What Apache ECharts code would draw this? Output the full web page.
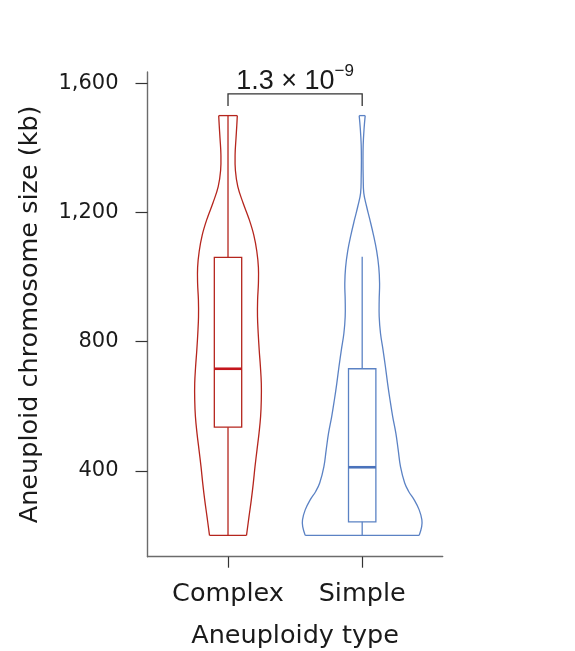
<!DOCTYPE html>
<html><head><meta charset="utf-8">
<script src="https://cdn.jsdelivr.net/npm/echarts@6/dist/echarts.min.js"></script>
<style>html,body{margin:0;padding:0;background:#fff}#c{width:575px;height:651px}</style>
</head><body><div id="c"></div>
<script>
// ---- data ----
const categories = ['Complex', 'Simple'];
const yTicks = [400, 800, 1200, 1600];
// violin outline: chromosome size levels (kb) and relative density (half width)
const complexLevels  = [200, 258, 310, 362, 413, 465, 516, 568, 620, 671, 723, 774, 826, 877, 929, 980, 1030, 1080, 1130, 1180, 1230, 1280, 1330, 1380, 1430, 1470, 1500];
const complexDensity = [18.5, 21, 23.3, 25.3, 27, 29, 31, 32.6, 33.3, 33.3, 32.4, 31.2, 30.2, 29.5, 29.6, 30.4, 30.4, 28.8, 25.8, 21, 15, 9.8, 7.4, 7.1, 8, 8.8, 9.3];
const simpleLevels   = [200, 227, 248, 279, 310, 336, 362, 413, 465, 516, 568, 620, 671, 723, 775, 826, 878, 929, 980, 1030, 1080, 1130, 1180, 1220, 1260, 1310, 1360, 1410, 1460, 1500];
const simpleDensity  = [57, 59.5, 59.7, 57, 52, 46.5, 42.5, 38.3, 36, 33.7, 30.5, 27.8, 25.4, 23.2, 20.8, 18.3, 17, 17, 17.4, 16.6, 14.5, 11.3, 7.5, 4.3, 1.6, 1, 0.8, 1, 1.9, 3];
// box: [min, Q1, median, Q3, max]
const complexBox = [200, 535, 716, 1061, 1500];
const simpleBox  = [200, 242, 411, 716, 1063];
// significance
const pMantissa = '1.3 × 10';
const pExponent = '−9';
const bracketLevels = [1530, 1567];

// ---- styles ----
const FONT = 'DejaVu Sans';
const RED = '#b5251d', RED_MED = '#c4161c';
const BLUE = '#5b82c4', BLUE_MED = '#4a72bb';
const WIDTH_SCALE = 1 / 134.2;   // density unit -> x axis units
const BOX_HALF = 0.102;

function violinItem(levels, dens, box, color, medColor) {
  return function (params, api) {
    const cx = api.value(0);
    const left = [], right = [];
    for (let i = 0; i < levels.length; i++) {
      left.push(api.coord([cx - dens[i] * WIDTH_SCALE, levels[i]]));
      right.push(api.coord([cx + dens[i] * WIDTH_SCALE, levels[i]]));
    }
    const n = levels.length - 1;
    const tl = api.coord([cx - BOX_HALF, box[3]]);
    const br = api.coord([cx + BOX_HALF, box[1]]);
    const c = api.coord([cx, box[0]]);
    const lo = c[1];
    const hi = api.coord([cx, box[4]])[1];
    const med = api.coord([cx, box[2]])[1];
    const ls = { fill: 'none', stroke: color, lineWidth: 1.3 };
    return {
      type: 'group',
      children: [
        { type: 'polyline', shape: { points: left, smooth: 0.4 }, style: ls },
        { type: 'polyline', shape: { points: right, smooth: 0.4 }, style: ls },
        { type: 'line', shape: { x1: left[0][0], y1: left[0][1], x2: right[0][0], y2: right[0][1] }, style: ls },
        { type: 'line', shape: { x1: left[n][0], y1: left[n][1], x2: right[n][0], y2: right[n][1] }, style: ls },
        { type: 'line', shape: { x1: c[0], y1: lo, x2: c[0], y2: br[1] }, style: ls },
        { type: 'line', shape: { x1: c[0], y1: tl[1], x2: c[0], y2: hi }, style: ls },
        { type: 'rect', shape: { x: tl[0], y: tl[1], width: br[0] - tl[0], height: br[1] - tl[1] }, style: ls },
        { type: 'line', shape: { x1: tl[0], y1: med, x2: br[0], y2: med }, style: { stroke: medColor, lineWidth: 2.6 } }
      ]
    };
  };
}

const chart = echarts.init(document.getElementById('c'), null, { renderer: 'canvas' });
chart.setOption({
  animation: false,
  backgroundColor: '#fff',
  textStyle: { fontFamily: FONT },
  grid: { left: 147.5, right: 132.3, top: 72, bottom: 94.3, containLabel: false, outerBoundsMode: 'none' },
  xAxis: {
    type: 'value', min: 0.4, max: 2.6,
    name: 'Aneuploidy type', nameLocation: 'middle', nameGap: 67,
    nameTextStyle: { fontFamily: FONT, fontSize: 25.5, color: '#1a1a1a' },
    axisLine: { show: true, lineStyle: { color: '#6b6b6b', width: 1.4 } },
    axisTick: { show: true, length: 11, lineStyle: { color: '#333', width: 1.2 }, customValues: [1, 2] },
    axisLabel: { fontFamily: FONT, fontSize: 25.5, color: '#1a1a1a', margin: 25,
      customValues: [1, 2], formatter: v => categories[Math.round(v) - 1] || '' },
    splitLine: { show: false }
  },
  yAxis: {
    type: 'value', min: 134, max: 1635,
    name: 'Aneuploid chromosome size (kb)', nameLocation: 'middle', nameGap: 104, nameRotate: 90,
    nameTextStyle: { fontFamily: FONT, fontSize: 25.5, color: '#1a1a1a' },
    axisLine: { show: true, lineStyle: { color: '#6b6b6b', width: 1.4 } },
    axisTick: { show: true, length: 12, lineStyle: { color: '#333', width: 1.2 }, customValues: yTicks },
    axisLabel: { fontFamily: FONT, fontSize: 21, color: '#1a1a1a', margin: 29, customValues: yTicks,
      formatter: v => v.toLocaleString('en-US') },
    splitLine: { show: false }
  },
  series: [
    { type: 'custom', data: [[1, 0]], renderItem: violinItem(complexLevels, complexDensity, complexBox, RED, RED_MED), clip: false },
    { type: 'custom', data: [[2, 0]], renderItem: violinItem(simpleLevels, simpleDensity, simpleBox, BLUE, BLUE_MED), clip: false },
    { type: 'custom', data: [[1, 2]], clip: false,
      renderItem: function (params, api) {
        const a = api.coord([api.value(0), bracketLevels[0]]);
        const b = api.coord([api.value(0), bracketLevels[1]]);
        const c = api.coord([api.value(1), bracketLevels[1]]);
        const d = api.coord([api.value(1), bracketLevels[0]]);
        const mid = api.coord([(api.value(0) + api.value(1)) / 2, bracketLevels[1]]);
        return { type: 'group', children: [
          { type: 'polyline', shape: { points: [a, b, c, d] }, style: { fill: 'none', stroke: '#333', lineWidth: 1.3 } },
          { type: 'text', style: {
              x: mid[0], y: mid[1] + 1, align: 'center', verticalAlign: 'bottom',
              text: '{m|' + pMantissa + '}{s|' + pExponent + '}',
              rich: {
                m: { fontFamily: 'Liberation Sans', fontSize: 27, lineHeight: 32, verticalAlign: 'bottom', fill: '#1a1a1a' },
                s: { fontFamily: 'Liberation Sans', fontSize: 17, lineHeight: 14, verticalAlign: 'top', fill: '#1a1a1a' }
              } } }
        ] };
      } }
  ]
});
</script></body></html>
